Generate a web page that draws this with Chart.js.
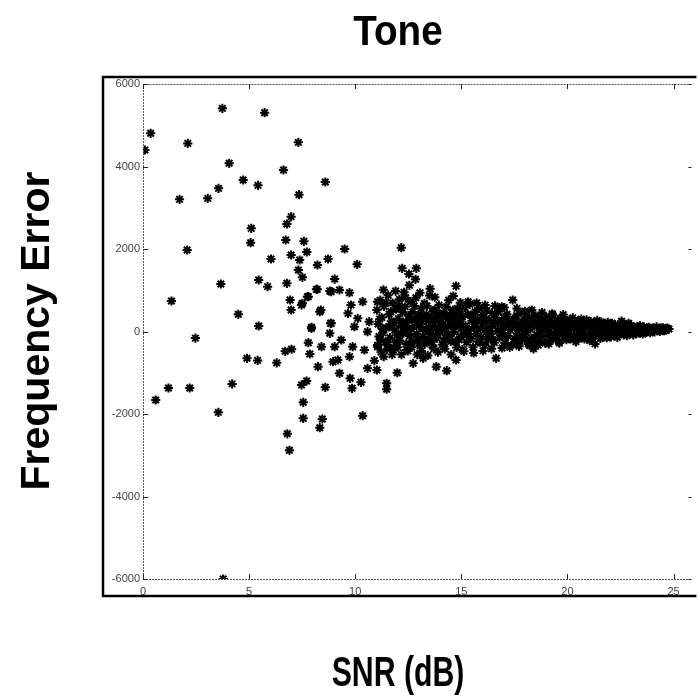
<!DOCTYPE html>
<html>
<head>
<meta charset="utf-8">
<title>Tone</title>
<script src="https://cdn.jsdelivr.net/npm/chart.js@4.4.0/dist/chart.umd.min.js"></script>
<style>
  html, body { margin: 0; padding: 0; background: #fff; }
  #wrap { width: 698px; height: 697px; }
</style>
</head>
<body>
<div id="wrap"><canvas id="myChart" width="698" height="697"></canvas></div>
<script>
// texts
const chartTitle = 'Tone';
const xTitle = 'SNR (dB)';
const yTitle = 'Frequency Error';

// axis ticks
const xTicks = [0, 5, 10, 15, 20, 25];
const yTicks = [-6000, -4000, -2000, 0, 2000, 4000, 6000];

// scattered points, low SNR
const sparseSnr = [0.09, 0.36, 2.11, 3.74, 5.73, 7.32, 4.06, 6.62, 4.72, 3.56, 5.42, 8.59, 1.72, 3.05, 7.35, 6.98, 6.78, 5.10, 6.73, 7.58,
  5.07, 2.08, 7.72, 6.98, 7.38, 6.03, 8.72, 8.22, 7.32, 7.51, 9.03, 5.45, 3.67, 5.87, 6.78, 8.21, 1.34, 7.75, 6.93, 7.47,
  8.38, 6.98, 4.49, 8.80, 8.84, 5.45, 7.94, 9.50, 12.17, 10.09, 12.21, 12.88, 12.53, 12.84, 14.75, 13.53, 14.62, 17.42, 8.17, 16.64,
  14.31, 11.98, 11.48, 11.48, 10.27, 9.85, 9.76, 9.26, 8.59, 7.71, 7.47, 7.55, 7.55, 8.45, 8.33, 10.35, 10.58, 11.02, 10.90,
  0.60, 1.20, 2.20, 2.47, 3.55, 4.20, 4.90, 5.40, 3.78, 6.80, 6.90, 6.30, 6.70, 7.00];
const sparseErr = [4400, 4805, 4560, 5410, 5305, 4585, 4078, 3915, 3673, 3470, 3543, 3624, 3204, 3228, 3317, 2784, 2606, 2501, 2218, 2186,
  2153, 1976, 1927, 1855, 1733, 1757, 1757, 1612, 1491, 1313, 1272, 1248, 1151, 1087, 1168, 1022, 739, 844, 764, 642,
  521, 521, 417, 982, 198, 133, 102, 2000, 2032, 1628, 1531, 1531, 1394, 1265, 1103, 1038, 861, 764, 1022, -650,
  -950, -1000, -1256, -1400, -1232, -1377, -1135, -1014, -1353, -1200, -1297, -1717, -2105, -2121, -2332, -2041, -893, -933, -707,
  -1660, -1370, -1370, -160, -1960, -1270, -650, -700, -6000, -2480, -2880, -760, -480, -430];

// spread cluster, SNR 7.5 - 14.8
const midSnr = [7.51, 7.79, 8.87, 9.26, 9.73, 8.33, 9.80, 10.35, 11.05, 8.87, 8.80, 7.94, 7.79, 7.86, 8.41, 9.03, 9.18, 9.88, 9.73, 10.43,
  9.96, 10.66, 10.58, 10.12, 9.66, 8.25, 8.95, 9.34, 11.20, 11.05, 11.34, 11.80, 12.42, 12.73, 13.20, 13.82, 14.75];
const midErr = [683, 845, 965, 1006, 941, 480, 642, 722, 722, 198, -44, 77, -271, -545, -368, -368, -691, -368, -610, -448,
  117, 238, -5, 319, 440, -853, -732, -206, -206, -368, -610, -448, -448, -772, -650, -853, -691];

// dense band, SNR 11 - 15
const bandSnr = [11.02, 11.08, 11.12, 11.18, 11.25, 11.30, 11.36, 11.42, 11.47, 11.55, 11.60, 11.64, 11.70, 11.76, 11.80, 11.86, 11.92, 11.97, 12.03, 12.08,
  12.10, 12.15, 12.22, 12.27, 12.30, 12.35, 12.40, 12.44, 12.50, 12.55, 12.60, 12.64, 12.70, 12.75, 12.80, 12.86, 12.90, 12.95, 13.00, 13.05,
  13.10, 13.15, 13.20, 13.26, 13.30, 13.36, 13.40, 13.46, 13.50, 13.55, 13.60, 13.65, 13.70, 13.75, 13.80, 13.85, 13.90, 13.95, 14.00, 14.05,
  14.10, 14.15, 14.20, 14.25, 14.30, 14.35, 14.40, 14.45, 14.50, 14.55, 14.60, 14.65, 14.70, 14.78, 14.85, 14.90, 14.96, 15.00,
  11.05, 11.22, 11.50, 11.74, 12.00, 12.18, 12.48, 12.66, 12.92, 13.12, 13.42, 13.62, 13.90, 14.22, 14.52, 14.72, 15.05,
  11.33, 11.90, 12.55, 13.05, 13.75, 14.40, 14.95, 11.58, 12.32, 13.22, 14.12, 14.82];
const bandErr = [520, 180, -120, 760, 340, -30, 610, -260, 90, 880, 420, -150, 250, 690, -380, 30, 540, -90, 310, 780,
  -220, 140, 470, -40, 950, 600, -300, 210, 380, -110, 720, 60, 470, -240, 280, 820, -60, 360, 130, -350,
  560, 240, -130, 680, 20, 410, -210, 260, 870, -60, 330, 150, -420, 520, 70, -160, 380, 640, -20, 230,
  -320, 450, 100, -150, 600, 290, -60, 410, -240, 160, 520, -10, 300, -390, 190, 470, -120, 80,
  -330, -500, -420, -560, -380, -560, -470, -380, -560, -470, -580, -330, -500, -420, -560, -250, -440,
  1010, 980, 1120, 940, 830, 760, 700, 120, 40, 300, 40, 560];

// dense band, SNR 15 - 20
const coreSnr = [15.05, 15.10, 15.15, 15.20, 15.25, 15.30, 15.35, 15.40, 15.45, 15.50, 15.55, 15.60, 15.65, 15.70, 15.75, 15.80, 15.85, 15.90, 15.95, 16.00,
  16.05, 16.10, 16.15, 16.20, 16.25, 16.30, 16.35, 16.40, 16.45, 16.50, 16.55, 16.60, 16.70, 16.75, 16.80, 16.85, 16.90, 16.95, 17.00, 17.05,
  17.10, 17.15, 17.20, 17.25, 17.30, 17.35, 17.45, 17.50, 17.55, 17.60, 17.65, 17.70, 17.75, 17.80, 17.85, 17.90, 17.95, 18.00, 18.05, 18.10,
  18.15, 18.20, 18.25, 18.30, 18.35, 18.40, 18.45, 18.50, 18.55, 18.60, 18.65, 18.70, 18.75, 18.80, 18.85, 18.90, 18.95, 19.00, 19.05, 19.10,
  19.15, 19.20, 19.25, 19.30, 19.35, 19.40, 19.45, 19.50, 19.55, 19.60, 19.65, 19.70, 19.75, 19.80, 19.85, 19.90, 19.95,
  15.12, 15.58, 16.02, 16.42, 16.92, 17.28, 17.72, 18.22, 18.62, 19.12, 19.62,
  15.32, 15.72, 16.12, 16.58, 17.02, 17.62, 18.32, 18.80, 19.28, 19.80];
const coreErr = [350, -80, 580, 140, -260, 420, 20, 660, -170, 260, -380, 110, 480, -60, 300, -250, 560, 70, -130, 400,
  200, -330, 40, 510, -190, 280, 90, -60, 440, 170, -270, 340, 20, 480, -150, 220, 600, -40, 330, -280,
  150, 420, -100, 250, 40, -330, 300, -180, 110, 380, -50, 210, -240, 460, 80, -130, 300, 490, -20, 180,
  -300, 350, 60, -160, 240, -420, 130, 380, -80, 200, -230, 310, 30, -130, 260, 120, -280, 350, 50, -90,
  230, -200, 140, 400, -40, 210, -170, 80, 290, -250, 160, -30, 330, 100, -120, 240, -200,
  -480, -520, -470, -420, -400, -380, -360, -340, -330, -300, -280,
  720, 690, 640, 620, 580, 560, 520, 460, 430, 410];

// narrow tail, SNR 20 - 25
const tailSnr = [20.00, 20.05, 20.10, 20.15, 20.20, 20.25, 20.30, 20.35, 20.40, 20.45, 20.50, 20.55, 20.60, 20.65, 20.70, 20.75, 20.80, 20.85, 20.90, 20.95,
  21.00, 21.05, 21.10, 21.15, 21.20, 21.25, 21.30, 21.35, 21.40, 21.45, 21.50, 21.55, 21.60, 21.65, 21.70, 21.75, 21.80, 21.85, 21.90, 21.95,
  22.00, 22.05, 22.10, 22.15, 22.20, 22.25, 22.30, 22.35, 22.40, 22.45, 22.55, 22.60, 22.65, 22.70, 22.75, 22.80, 22.85, 22.90, 22.95, 23.00,
  23.05, 23.10, 23.15, 23.20, 23.25, 23.30, 23.35, 23.40, 23.45, 23.50, 23.55, 23.60, 23.65, 23.70, 23.75, 23.80, 23.85, 23.90, 23.95, 24.00,
  24.05, 24.10, 24.15, 24.20, 24.25, 24.30, 24.35, 24.40, 24.45, 24.50, 24.55, 24.60, 24.65, 24.70, 24.78];
const tailErr = [150, -60, 290, -180, 80, 330, -100, 190, -250, 40, 260, -140, 120, 300, -30, 200, -180, 90, 280, -80,
  160, -220, 240, 30, -120, 210, -300, 90, 270, -60, 150, -170, 230, 20, -110, 190, 60, -150, 220, -40,
  120, -130, 200, 10, -90, 170, 60, -140, 130, -30, 250, 90, -80, 150, 20, -100, 120, 50, -60, 140,
  10, -80, 100, 30, -50, 120, 60, -40, 90, 20, -60, 110, 40, -20, 80, 10, 100, -30, 60, 20,
  90, -10, 50, 110, 30, 70, 0, 80, 40, 90, 20, 60, 50, 80, 60];

// more points filling the band gaps
const fillSnr = [11.15, 11.28, 11.45, 11.52, 11.68, 11.83, 11.95, 12.05, 12.13, 12.25, 12.38, 12.47, 12.58, 12.68, 12.78, 12.88, 12.97, 13.08, 13.18, 13.28,
  13.38, 13.48, 13.58, 13.68, 13.78, 13.88, 13.98, 14.08, 14.18, 14.28, 14.38, 14.48, 14.58, 14.68, 14.76, 14.88, 14.98,
  15.08, 15.28, 15.48, 15.68, 15.88, 16.08, 16.28, 16.48, 16.68, 16.88, 17.08, 17.38, 17.58, 17.78, 17.98, 18.18, 18.48, 18.68, 18.98, 19.18,
  19.48, 19.72, 19.92, 20.12, 20.38, 20.62, 20.88, 21.12, 21.38, 21.62, 21.88, 22.12, 22.38, 22.62, 22.88, 23.12, 23.42, 23.72, 24.02, 24.32, 24.62];
const fillErr = [300, 60, 700, -260, 480, 200, -250, 620, -60, 230, 820, 60, -300, 290, 620, 160, -200, 420, 60, -300,
  620, 100, -230, 500, 260, -40, 400, 140, -260, 380, 120, -100, 330, 120, 420, -200, 300,
  120, -60, 400, 200, -260, 300, -50, -200, 250, 60, -150, 180, -300, 100, -180, 120, -250, 100, 100, 320,
  -100, 150, 40, 100, 200, -150, 150, -100, 150, -80, 80, 100, 40, -40, 200, 20, 140, 50, 60, 40, 30];

function toPoints(xs, ys) {
  return xs.map((x, i) => ({ x: x, y: ys[i] }));
}

// frame, axes, inward ticks and titles
const decor = {
  id: 'decor',
  afterDraw(chart) {
    const ctx = chart.ctx;
    const a = chart.chartArea;
    const sx = chart.scales.x, sy = chart.scales.y;
    ctx.save();
    // outer black box
    ctx.strokeStyle = '#000';
    ctx.lineWidth = 2.5;
    ctx.beginPath();
    ctx.moveTo(a.right + 5, a.top - 7);
    ctx.lineTo(a.left - 40, a.top - 7);
    ctx.lineTo(a.left - 40, a.bottom + 17);
    ctx.lineTo(a.right + 5, a.bottom + 17);
    ctx.stroke();
    // axis box
    ctx.strokeStyle = '#555';
    ctx.lineWidth = 1;
    ctx.setLineDash([2, 1]);
    ctx.beginPath();
    ctx.moveTo(a.left + 0.5, a.top + 0.5);
    ctx.lineTo(a.right, a.top + 0.5);
    ctx.moveTo(a.left + 0.5, a.top);
    ctx.lineTo(a.left + 0.5, a.bottom + 0.5);
    ctx.lineTo(a.right, a.bottom + 0.5);
    ctx.stroke();
    ctx.setLineDash([]);
    ctx.strokeStyle = '#222';
    ctx.beginPath();
    xTicks.forEach(v => {
      const px = Math.round(sx.getPixelForValue(v)) + 0.5;
      ctx.moveTo(px, a.top); ctx.lineTo(px, a.top + 5);
      ctx.moveTo(px, a.bottom); ctx.lineTo(px, a.bottom - 5);
    });
    yTicks.forEach(v => {
      const py = Math.round(sy.getPixelForValue(v)) + 0.5;
      ctx.moveTo(a.left, py); ctx.lineTo(a.left + 5, py);
      ctx.moveTo(a.right, py); ctx.lineTo(a.right - 3, py);
    });
    ctx.stroke();
    // titles (condensed bold look)
    ctx.fillStyle = '#000';
    ctx.textAlign = 'center';
    ctx.textBaseline = 'alphabetic';
    ctx.font = 'bold 42px "Liberation Sans", Arial, sans-serif';
    ctx.save();
    ctx.translate(398, 45);
    ctx.scale(0.92, 1);
    ctx.fillText(chartTitle, 0, 0);
    ctx.restore();
    ctx.save();
    ctx.translate(398, 686);
    ctx.scale(0.72, 1);
    ctx.fillText(xTitle, 0, 0);
    ctx.restore();
    ctx.save();
    ctx.translate(49, 331);
    ctx.rotate(-Math.PI / 2);
    ctx.font = 'bold 41px "Liberation Sans", Arial, sans-serif';
    ctx.fillText(yTitle, 0, 0);
    ctx.restore();
    ctx.restore();
  }
};

const starStyle = {
  pointStyle: 'star',
  pointRadius: 4.6,
  pointBorderWidth: 2,
  borderColor: '#000',
  backgroundColor: '#000'
};

var ctx = document.getElementById('myChart').getContext('2d');
var chart = new Chart(ctx, {
  type: 'scatter',
  data: {
    datasets: [
      Object.assign({ label: 'sparse', data: toPoints(sparseSnr, sparseErr) }, starStyle),
      Object.assign({ label: 'mid', data: toPoints(midSnr, midErr) }, starStyle),
      Object.assign({ label: 'band', data: toPoints(bandSnr, bandErr) }, starStyle),
      Object.assign({ label: 'core', data: toPoints(coreSnr, coreErr) }, starStyle),
      Object.assign({ label: 'tail', data: toPoints(tailSnr, tailErr) }, starStyle),
      Object.assign({ label: 'fill', data: toPoints(fillSnr, fillErr) }, starStyle)
    ]
  },
  options: {
    responsive: false,
    animation: false,
    layout: { padding: { top: 84, left: 0, right: 0, bottom: 0 } },
    plugins: {
      legend: { display: false },
      tooltip: { enabled: false },
      title: { display: false }
    },
    scales: {
      x: {
        type: 'linear',
        min: 0,
        max: 25.84,
        afterBuildTicks: s => { s.ticks = xTicks.map(v => ({ value: v })); },
        afterFit: s => { s.height = 118; },
        grid: { display: false, drawTicks: false },
        border: { display: false },
        ticks: { padding: 6, color: '#444', font: { family: '"Liberation Sans", Arial', size: 11 }, maxRotation: 0,
          callback: v => String(v) }
      },
      y: {
        type: 'linear',
        min: -6000,
        max: 6000,
        afterBuildTicks: s => { s.ticks = yTicks.map(v => ({ value: v })); },
        afterFit: s => { s.width = 143; },
        grid: { display: false, drawTicks: false },
        border: { display: false },
        ticks: { padding: 3, color: '#444', font: { family: '"Liberation Sans", Arial', size: 11 },
          callback: v => String(v) }
      }
    }
  },
  plugins: [decor]
});
</script>
</body>
</html>
